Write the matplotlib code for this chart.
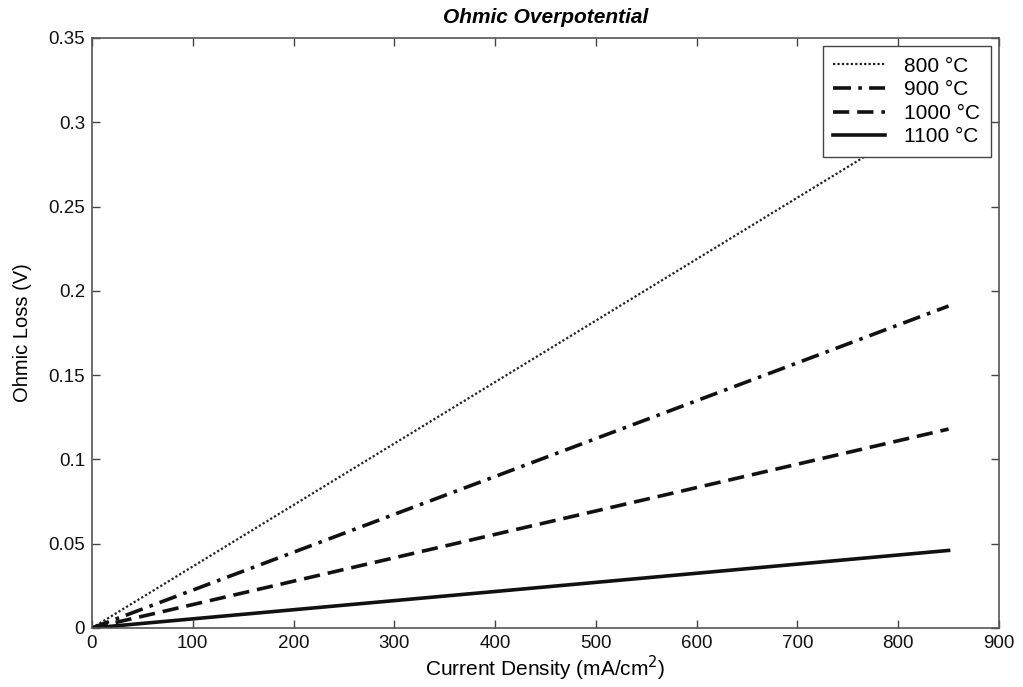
import matplotlib
matplotlib.use("Agg")
import matplotlib.pyplot as plt

plt.rcParams['font.family'] = ['Liberation Sans', 'DejaVu Sans']

# Current density (mA/cm^2) and ohmic loss (V) for each operating temperature
current_density = [0, 850]
loss_800 = [0, 0.310]
loss_900 = [0, 0.191]
loss_1000 = [0, 0.118]
loss_1100 = [0, 0.046]
labels = ['800 °C', '900 °C', '1000 °C', '1100 °C']

x_ticks = [0, 100, 200, 300, 400, 500, 600, 700, 800, 900]
y_ticks = [0, 0.05, 0.1, 0.15, 0.2, 0.25, 0.3, 0.35]
y_tick_labels = ['0', '0.05', '0.1', '0.15', '0.2', '0.25', '0.3', '0.35']

fig = plt.figure(figsize=(10.23, 6.87), dpi=100)
ax = fig.add_axes([0.0899, 0.0859, 0.8866, 0.8588])

ax.plot(current_density, loss_800, color='#222222', linestyle=(0, (1, 1.0)), linewidth=1.6, label=labels[0])
ax.plot(current_density, loss_900, color='#111111', linestyle=(0, (5, 2, 1, 2)), linewidth=2.6, label=labels[1])
ax.plot(current_density, loss_1000, color='#111111', linestyle=(0, (4.5, 2.2)), linewidth=2.6, label=labels[2])
ax.plot(current_density, loss_1100, color='#111111', linestyle='-', linewidth=2.6, label=labels[3])

ax.set_xlim(0, 900)
ax.set_ylim(0, 0.35)
ax.set_xticks(x_ticks)
ax.set_yticks(y_ticks)
ax.set_yticklabels(y_tick_labels)
ax.tick_params(direction='in', top=True, right=True, length=6, width=1,
               color='#444444', labelsize=13.5, labelcolor='#111111', pad=5)
for s in ax.spines.values():
    s.set_color('#555555')
    s.set_linewidth(1.2)

ax.set_title('Ohmic Overpotential', fontsize=15, fontweight='bold', style='italic', pad=11)
ax.set_xlabel('Current Density (mA/cm$^2$)', fontsize=15, labelpad=1)
ax.set_ylabel('Ohmic Loss (V)', fontsize=14.5, labelpad=12)

leg = ax.legend(loc='upper right', fontsize=15, handlelength=2.5, fancybox=False,
                framealpha=1, edgecolor='#444444', borderpad=0.5, labelspacing=0.22,
                borderaxespad=0.4, handletextpad=0.9)
leg.get_frame().set_linewidth(1.0)

fig.savefig('out.png', dpi=100)
